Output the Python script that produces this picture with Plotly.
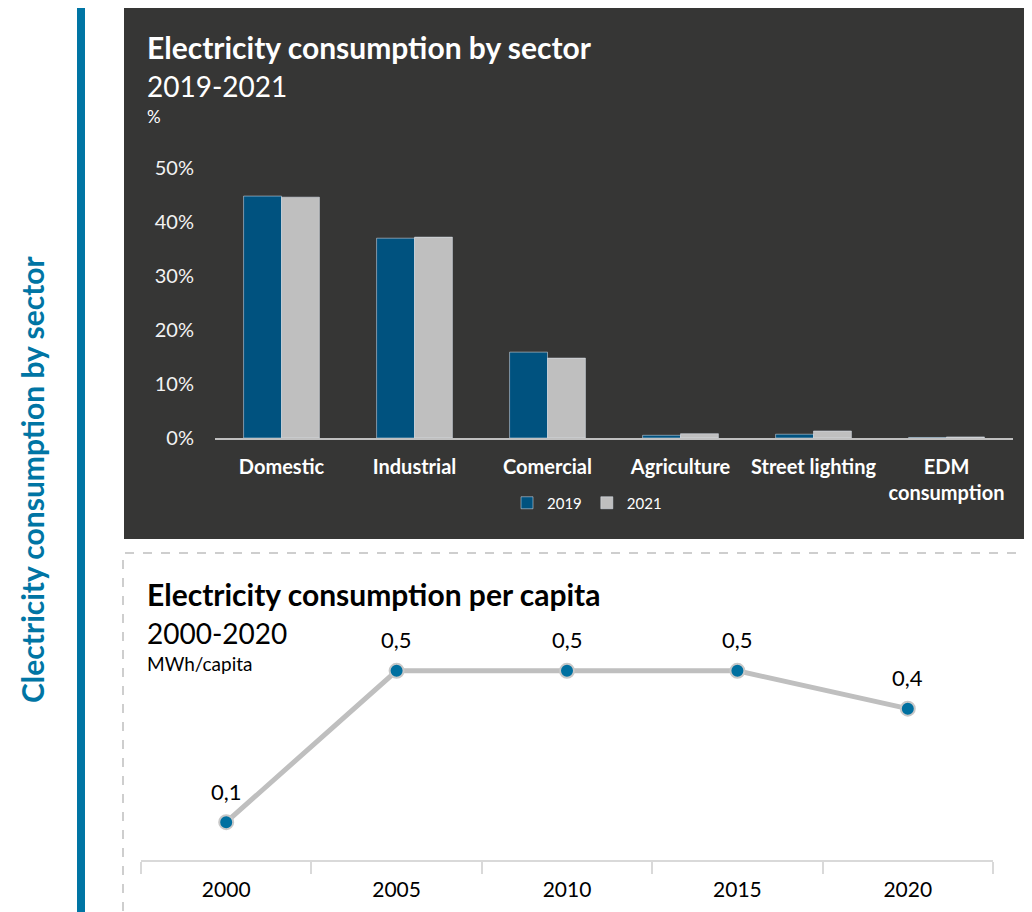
import plotly.graph_objects as go

# ---- data ----
sectors = ["Domestic", "Industrial", "Comercial", "Agriculture", "Street lighting", "EDM<br>consumption"]
share_2019 = [0.448, 0.370, 0.159, 0.005, 0.007, 0.001]
share_2021 = [0.446, 0.372, 0.148, 0.008, 0.013, 0.002]
y_ticks = [0, 0.1, 0.2, 0.3, 0.4, 0.5]
y_tick_labels = ["0%", "10%", "20%", "30%", "40%", "50%"]

years = ["2000", "2005", "2010", "2015", "2020"]
per_capita = [0.1, 0.5, 0.5, 0.5, 0.4]

W, H = 1032, 912
FONT = "Lato"
OFF = 8  # page body margin offset

def px(x):
    return (x - OFF) / W

def py(y):
    return 1 - (y - OFF) / H

fig = go.Figure()

fig.add_trace(go.Bar(x=sectors, y=share_2019, name="2019", marker_color="#00527F",
                     xaxis="x", yaxis="y"))
fig.add_trace(go.Bar(x=sectors, y=share_2021, name="2021", marker_color="#BFBFBF",
                     xaxis="x", yaxis="y"))

fig.add_trace(go.Scatter(x=years, y=per_capita, mode="lines+markers", showlegend=False,
                         line=dict(color="#BFBFBF", width=5),
                         marker=dict(color="#0070A0", size=14, line=dict(color="#C8C8C8", width=2)),
                         xaxis="x2", yaxis="y2"))

# data labels for line (x given as category index)
for i, v in enumerate(per_capita):
    fig.add_annotation(x=i, y=v, xref="x2", yref="y2", text=f"{v:.1f}".replace(".", ","),
                       showarrow=False, yshift=31, font=dict(family=FONT, size=22, color="#000000"))

shapes = [
    # dark panel
    dict(type="rect", xref="paper", yref="paper", x0=px(124), x1=px(1060), y0=py(539), y1=py(6),
         fillcolor="#363635", line=dict(width=0), layer="below"),
    # dashed box
    dict(type="rect", xref="paper", yref="paper", x0=px(123), x1=px(1060), y0=py(940), y1=py(553),
         fillcolor="rgba(0,0,0,0)", line=dict(color="#BFBFBF", width=1.5, dash="dash"), layer="below"),
    # blue vertical bar
    dict(type="rect", xref="paper", yref="paper", x0=px(77), x1=px(85), y0=py(940), y1=py(8),
         fillcolor="#0075A4", line=dict(width=0), layer="below"),
]

annotations = [
    dict(text="<b>Electricity consumption by sector</b>", x=px(145), y=py(47), font=dict(size=30, color="#FFFFFF")),
    dict(text="2019-2021", x=px(145), y=py(86), font=dict(size=28, color="#FFFFFF")),
    dict(text="%", x=px(145), y=py(116), font=dict(size=17, color="#FFFFFF")),
    dict(text="<b>Electricity consumption per capita</b>", x=px(145), y=py(594), font=dict(size=30, color="#000000")),
    dict(text="2000-2020", x=px(145), y=py(633), font=dict(size=28, color="#000000")),
    dict(text="MWh/capita", x=px(145), y=py(663), font=dict(size=19, color="#000000")),
]
for a in annotations:
    a.update(xref="paper", yref="paper", xanchor="left", yanchor="middle", showarrow=False)
    a["font"]["family"] = FONT
    fig.add_annotation(**a)

fig.add_annotation(text="<b>Clectricity consumption by sector</b>", x=px(32), y=py(480),
                   xref="paper", yref="paper", textangle=-90, showarrow=False,
                   xanchor="center", yanchor="middle",
                   font=dict(family=FONT, size=30, color="#0075A4"))

fig.update_layout(
    width=W, height=H,
    margin=dict(l=0, r=0, t=0, b=0, pad=0, autoexpand=False),
    paper_bgcolor="#FFFFFF", plot_bgcolor="rgba(0,0,0,0)",
    barmode="group", bargap=0.43, bargroupgap=0,
    shapes=shapes,
    font=dict(family=FONT),
    legend=dict(orientation="h", x=px(587), y=py(503), xanchor="center", yanchor="middle",
                font=dict(family=FONT, size=15, color="#FFFFFF"), bgcolor="rgba(0,0,0,0)",
                itemwidth=30, traceorder="normal"),
    xaxis=dict(domain=[px(215), px(1013)], anchor="y", showline=True, linecolor="#BFBFBF", linewidth=2,
               showgrid=False, ticks="", tickfont=dict(family=FONT, size=20, color="#FFFFFF", weight="bold"),
               ticklabelstandoff=10, fixedrange=True, automargin=False, tickangle=0),
    yaxis=dict(domain=[py(438), py(168)], anchor="x", range=[0, 0.5], showgrid=False, zeroline=False,
               tickvals=y_ticks, ticktext=y_tick_labels, showline=False, ticks="", automargin=False,
               tickfont=dict(family=FONT, size=20, color="#F2F2F2"), ticklabelstandoff=20),
    xaxis2=dict(domain=[px(141), px(993)], anchor="y2", type="category", range=[-0.5, 4.5],
                showline=True, automargin=False, tickangle=0,
                linecolor="#D9D9D9", linewidth=2, showgrid=False, ticks="outside", tickson="boundaries",
                ticklen=12, tickcolor="#D9D9D9", tickwidth=2,
                tickfont=dict(family=FONT, size=21, color="#000000"), ticklabelstandoff=10),
    yaxis2=dict(domain=[py(860), py(633)], anchor="x2", range=[0, 0.6], visible=False, automargin=False),
)

fig.write_html("out.html")
